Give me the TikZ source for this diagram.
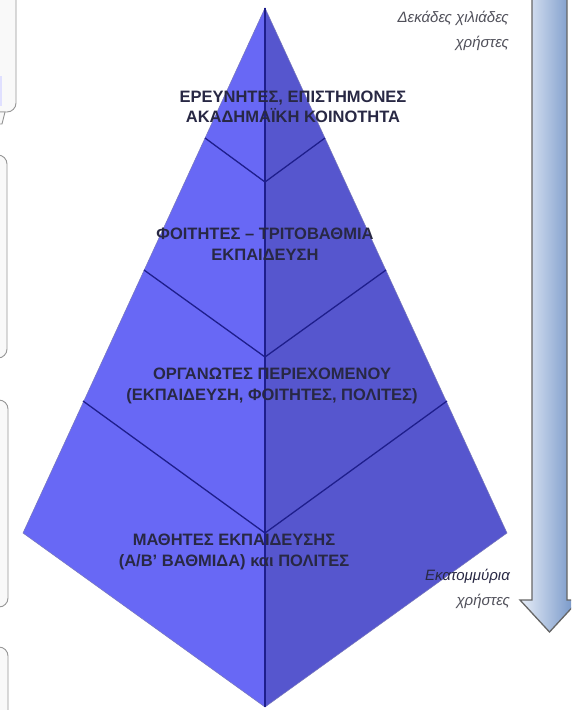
\documentclass[tikz,border=0pt]{standalone}
\usepackage{fontspec}
\setmainfont{Liberation Sans}
\definecolor{leftface}{RGB}{104,104,245}
\definecolor{rightface}{RGB}{86,86,206}
\definecolor{divline}{RGB}{30,30,140}
\definecolor{txtdark}{RGB}{40,40,68}
\definecolor{lblgray}{RGB}{80,80,90}
\definecolor{arrowlight}{RGB}{232,238,248}
\definecolor{arrowdark}{RGB}{108,143,196}
\definecolor{panelfill}{RGB}{249,249,249}
\definecolor{panelline}{RGB}{150,150,150}
\begin{document}
\begin{tikzpicture}[x=1pt,y=-1pt,
  levellabel/.style={align=center,font=\fontsize{16.5}{20.5}\selectfont\bfseries,text=txtdark,inner sep=0pt},
  sidelabel/.style={align=right,font=\fontsize{15}{25}\selectfont\itshape,text=lblgray,inner sep=0pt,anchor=east},
  divider/.style={draw=divline,line width=1.3pt},
  panel/.style={draw=panelline,fill=panelfill,line width=0.9pt,rounded corners=9pt}]
\useasboundingbox (0,0) rectangle (571,710);
\fill[white] (0,0) rectangle (571,710);
% left UI fragments
\begin{scope}
\clip (0,0) rectangle (571,710);
\draw[panel] (-60,-20) rectangle (16,112);
\fill[blue!12] (-2,76) rectangle (2,106);
\draw[panelline,fill=panelfill,line width=0.9pt] (-2,112) -- (5,112) -- (2,124) -- (-2,124);
\draw[panel] (-60,155) rectangle (7,358);
\draw[panel] (-60,400) rectangle (8,607);
\draw[panel] (-60,647) rectangle (8,760);
\end{scope}
% pyramid corners
\coordinate (top) at (265,8);
\coordinate (lc) at (23,533);
\coordinate (rc) at (507,533);
\coordinate (bot) at (265,707);
\fill[leftface] (top) -- (lc) -- (bot) -- cycle;
\fill[rightface] (top) -- (rc) -- (bot) -- cycle;
\draw[divline!60,line width=0.5pt] (top) -- (lc) -- (bot) -- (rc) -- cycle;
% dividers
\coordinate (v1l) at (205,138); \coordinate (v1c) at (265,182); \coordinate (v1r) at (325,138);
\coordinate (v2l) at (144,270); \coordinate (v2c) at (265,357); \coordinate (v2r) at (386,270);
\coordinate (v3l) at (83,401);  \coordinate (v3c) at (265,533); \coordinate (v3r) at (447,401);
\draw[divider] (top) -- (bot);
\draw[divider] (v1l) -- (v1c) -- (v1r);
\draw[divider] (v2l) -- (v2c) -- (v2r);
\draw[divider] (v3l) -- (v3c) -- (v3r);
% level labels
\node[levellabel] (l1) at (293,107) {ΕΡΕΥΝΗΤΕΣ, ΕΠΙΣΤΗΜΟΝΕΣ\\ΑΚΑΔΗΜΑΪΚΗ ΚΟΙΝΟΤΗΤΑ};
\node[levellabel] (l2) at (265,244) {ΦΟΙΤΗΤΕΣ – ΤΡΙΤΟΒΑΘΜΙΑ\\ΕΚΠΑΙΔΕΥΣΗ};
\node[levellabel] (l3) at (272,386) {ΟΡΓΑΝΩΤΕΣ ΠΕΡΙΕΧΟΜΕΝΟΥ\\(ΕΚΠΑΙΔΕΥΣΗ, ΦΟΙΤΗΤΕΣ, ΠΟΛΙΤΕΣ)};
\node[levellabel] (l4) at (234,552) {ΜΑΘΗΤΕΣ ΕΚΠΑΙΔΕΥΣΗΣ\\(Α/Β' ΒΑΘΜΙΔΑ) και ΠΟΛΙΤΕΣ};
% arrow
\begin{scope}
\clip (0,0) rectangle (571,710);
\shade[left color=arrowlight,right color=arrowdark,draw=gray!80!black,line width=1.3pt]
  (532,-5) -- (532,600) -- (520,600) -- (549.5,632) -- (579,600) -- (567,600) -- (567,-5) -- cycle;
\end{scope}
% side labels
\node[sidelabel] (ltop) at (509,31) {Δεκάδες χιλιάδες\\χρήστες};
\node[sidelabel,text=txtdark] (lbot) at (510,576) {Εκατομμύρια};
\node[sidelabel] (lbot2) at (510,601) {χρήστες};
\end{tikzpicture}
\end{document}
